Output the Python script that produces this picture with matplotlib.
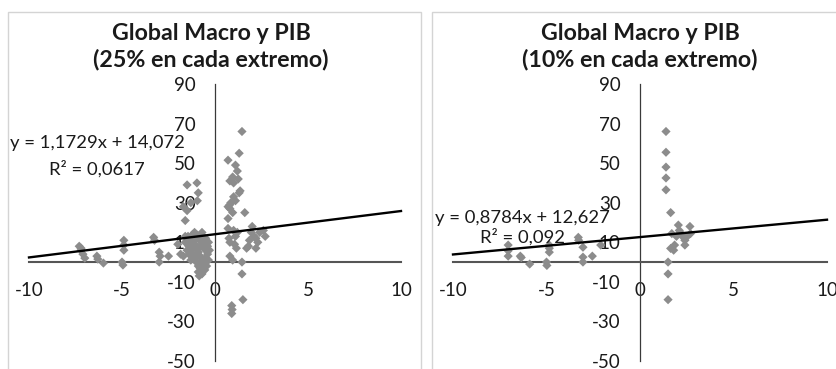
import matplotlib
matplotlib.use("Agg")
import matplotlib.pyplot as plt
from matplotlib.patches import Rectangle

W, H = 836, 369
plt.rcParams['font.family'] = ['Lato', 'DejaVu Sans']

# ---- data: 25% en cada extremo ----
x25 = [-7.3, -7.2, -7.1, -7.0, -7.2, -6.35, -6.3, -6.0,
       -4.9, -4.9, -4.9, -5.0, -4.95, -3.3, -3.25, -3.0, -3.0, -2.95, -2.5,
       -1.5, -0.97, -0.9, -0.95, -1.7, -1.5, -1.3, -1.6,
       -1.6, -1.5, -1.7, -1.4, -1.2, -1.1, -1.0, -0.9, -0.8, -0.7,
       -1.1, -1.0, -0.9, -0.8, -0.7, -0.6, -0.8, -0.9, -0.7, -0.6,
       -0.5, -0.5, -0.6, -0.4, -1.2, -1.3, -1.0, -0.9, -1.1, -0.7,
       -0.5, -0.4, -0.6, -1.0, -0.8, -1.25, -2.0, -1.85, -0.45, -0.75,
       -1.45, -1.35, -1.2, -1.05, -0.35, -0.3, -0.55, -1.6, -1.4, -0.65,
       -0.85, -1.15, -0.95, -0.35, -1.3,
       0.7, 1.1, 1.2, 0.95, 0.8, 1.0, 1.25, 1.3, 1.35, 1.45,
       1.3, 1.0, 1.1, 0.85, 0.7, 0.8, 0.95, 0.8, 0.7, 1.6,
       0.7, 1.0, 0.8, 1.05, 1.15, 0.8, 0.95, 1.7, 1.8, 1.45, 1.45, 1.5,
       0.9, 0.92, 0.9, 0.75, 1.1, 1.2,
       2.0, 1.95, 2.1, 2.2, 2.3, 2.2, 2.6, 2.7, 1.85, 2.4]
y25 = [8, 6, 4, 2, 7, 3, 1.5, -0.5,
       11, 8.6, 6, 0, -1.5, 12.5, 11, 5, 0, 3, 3,
       39, 40, 35, 31, 28, 26, 30, 21,
       10, 6, 3, 8, 12, 15, 14, 13, 11, 9,
       9, 7, 5, 3, 1, -1, -3, -5, -6, -4,
       2, 6, 10, 8, 4, 1, 0, -2, 11, 15,
       12, 4, 7, 3, 8, 6, 9, 4, -2, -1,
       13, 11, 14, 2, 10, 6, -4, 13, 4, 13,
       -7, 9, 12, 1, 7,
       51.5, 49, 46, 43, 41, 40, 42, 55, 36, 66,
       35, 33, 31, 30, 28, 27, 25, 29, 22, 25,
       17, 16, 10, 9, 7, 3, 1, 7, 8, 0, -6, -19,
       -22, -24, -26, 12, 13, 15,
       18, 15, 13, 12, 10, 7, 16, 13, 11, 15]

# ---- data: 10% en cada extremo ----
x10 = [-7.05, -7.05, -7.05, -6.4, -6.35, -5.9, -5.0, -4.98,
       -4.85, -4.85, -4.85, -3.3, -3.28, -3.05, -3.05, -3.05, -2.55, -2.1,
       1.39, 1.39, 1.39, 1.39, 1.39, 1.64, 1.5, 1.5, 1.5,
       1.64, 1.7, 1.85, 1.8, 2.05, 2.1, 2.2, 2.3, 2.4, 2.4, 2.67, 2.7, 2.5, 1.95]
y10 = [8.6, 5.7, 3, 3, 2.3, -1, 0, -1.7,
       8.6, 7, 5, 12.5, 11, 7.5, 2.5, 0, 3, 8.6,
       66, 55.5, 48, 42.5, 36.5, 25, 0, -6, -19,
       6.9, 14.4, 8.6, 6, 18.7, 16, 14.4, 12.7, 11, 8.6, 18, 14.4, 12.7, 13]

titles = ["Global Macro y PIB\n(25% en cada extremo)",
          "Global Macro y PIB\n(10% en cada extremo)"]
slopes = [1.1729, 0.8784]
intercepts = [14.072, 12.627]
r2 = ["0,0617", "0,092"]
xticks = [-10, -5, 0, 5, 10]
yticks = [-50, -30, -10, 10, 30, 50, 70, 90]


def fx(px):
    return px / W


def fy(py):
    return 1 - py / H


fig = plt.figure(figsize=(W / 100, H / 100), dpi=100)
fig.patch.set_facecolor("white")

# chart frames
for left, right in [(8, 421), (432, 860)]:
    fig.patches.append(Rectangle((fx(left), fy(400)), fx(right - left), (400 - 12.5) / H,
                                 transform=fig.transFigure, fill=False,
                                 edgecolor="#d4d4d4", lw=1.0, zorder=0))

panels = [
    dict(x=x25, y=y25, ax_l=29, ax_r=401, title_cx=211,
         eq_xy=(97, 143), r2_xy=(97, 169)),
    dict(x=x10, y=y10, ax_l=453, ax_r=827, title_cx=640,
         eq_xy=(522, 218), r2_xy=(523, 237)),
]

top_px, bot_px = 84, 361
for i, p in enumerate(panels):
    ax = fig.add_axes([fx(p["ax_l"]), fy(bot_px), fx(p["ax_r"] - p["ax_l"]),
                       (bot_px - top_px) / H])
    ax.set_xlim(-10, 10)
    ax.set_ylim(-50, 90)
    ax.patch.set_alpha(0)
    for s in ["top", "right"]:
        ax.spines[s].set_visible(False)
    ax.spines["left"].set_position(("data", 0))
    ax.spines["bottom"].set_position(("data", 0))
    ax.spines["left"].set_color("#3a3a3a")
    ax.spines["left"].set_linewidth(0.9)
    ax.spines["bottom"].set_color("#555555")
    ax.spines["bottom"].set_linewidth(1.5)
    ax.set_xticks(xticks)
    ax.set_yticks(yticks)
    ax.set_xticklabels([str(t) for t in xticks])
    ax.set_yticklabels([str(t) for t in yticks])
    ax.tick_params(axis="both", length=0, labelsize=13.5, colors="#1a1a1a")
    ax.tick_params(axis="x", pad=14)
    ax.tick_params(axis="y", pad=14)
    for lab in ax.get_xticklabels() + ax.get_yticklabels():
        lab.set_clip_on(False)

    ax.scatter(p["x"], p["y"], marker="D", s=22, color="#8c8c8c",
               edgecolors="none", zorder=3, clip_on=False)

    xs = [-10, 10]
    ys = [slopes[i] * v + intercepts[i] for v in xs]
    ax.plot(xs, ys, color="black", lw=1.7, zorder=4, clip_on=False)

    fig.text(fx(p["title_cx"]), fy(47), titles[i], ha="center", va="center",
             fontsize=16.7, fontweight="bold", color="#1a1a1a", linespacing=1.27)

    sign = "+" if intercepts[i] >= 0 else "-"
    eq = "y = {}x {} {}".format(str(slopes[i]).replace(".", ","), sign,
                               "{:.3f}".format(intercepts[i]).replace(".", ","))
    fig.text(fx(p["eq_xy"][0]), fy(p["eq_xy"][1]), eq, ha="center", va="center",
             fontsize=13.3, color="#1a1a1a", zorder=5)
    fig.text(fx(p["r2_xy"][0]), fy(p["r2_xy"][1]), "R² = " + r2[i], ha="center",
             va="center", fontsize=13.3, color="#1a1a1a", zorder=5)

fig.savefig("out.png", dpi=100)
